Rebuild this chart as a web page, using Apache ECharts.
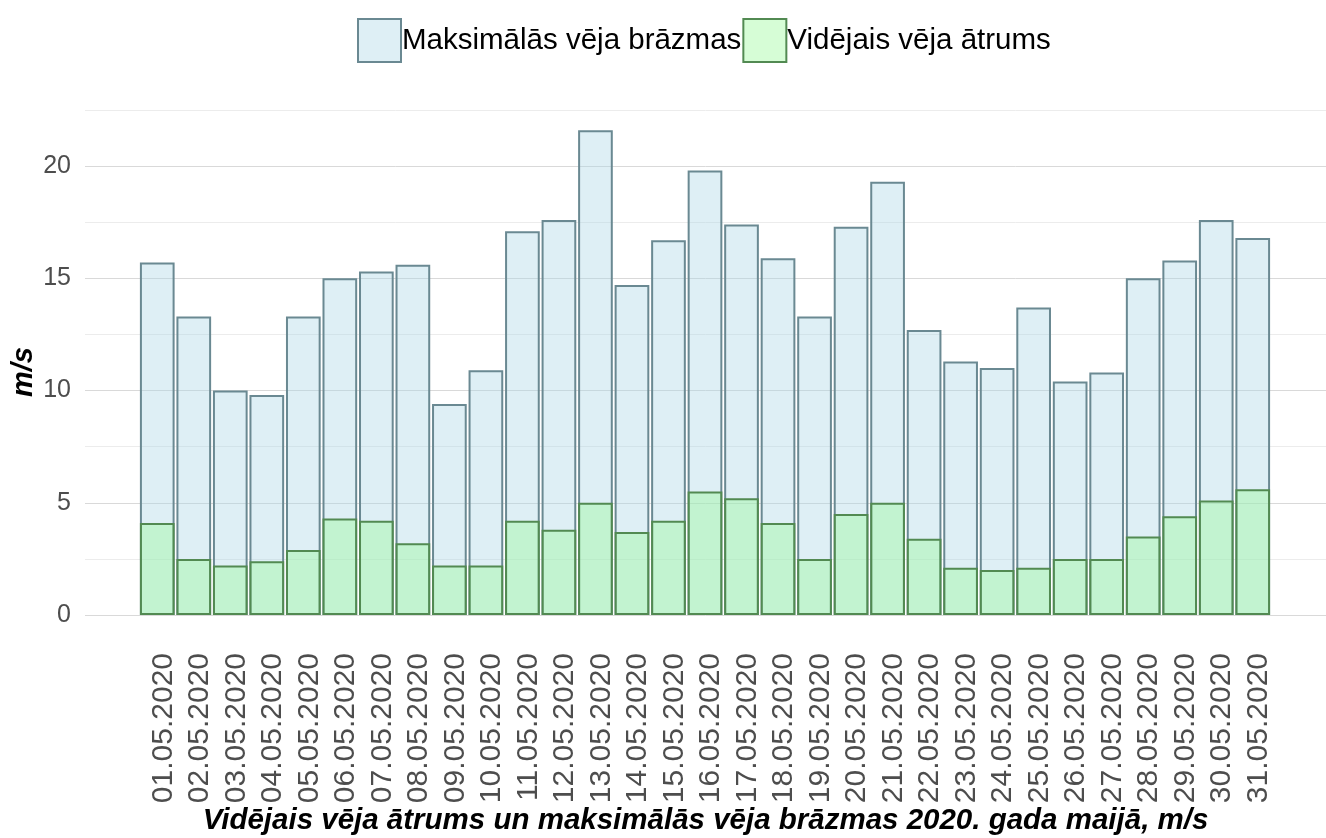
<!DOCTYPE html>
<html>
<head>
<meta charset="utf-8">
<script src="https://cdn.jsdelivr.net/npm/echarts@6/dist/echarts.min.js"></script>
<style>
html,body{margin:0;padding:0;background:#fff;}
#chart{width:1326px;height:838px;}
</style>
</head>
<body>
<div id="chart"></div>
<script>
const categories = ['01.05.2020','02.05.2020','03.05.2020','04.05.2020','05.05.2020','06.05.2020','07.05.2020','08.05.2020','09.05.2020','10.05.2020','11.05.2020','12.05.2020','13.05.2020','14.05.2020','15.05.2020','16.05.2020','17.05.2020','18.05.2020','19.05.2020','20.05.2020','21.05.2020','22.05.2020','23.05.2020','24.05.2020','25.05.2020','26.05.2020','27.05.2020','28.05.2020','29.05.2020','30.05.2020','31.05.2020'];
const maxGust = [15.7,13.3,10.0,9.8,13.3,15.0,15.3,15.6,9.4,10.9,17.1,17.6,21.6,14.7,16.7,19.8,17.4,15.9,13.3,17.3,19.3,12.7,11.3,11.0,13.7,10.4,10.8,15.0,15.8,17.6,16.8];
const avgSpeed = [4.1,2.5,2.2,2.4,2.9,4.3,4.2,3.2,2.2,2.2,4.2,3.8,5.0,3.7,4.2,5.5,5.2,4.1,2.5,4.5,5.0,3.4,2.1,2.0,2.1,2.5,2.5,3.5,4.4,5.1,5.6];
const yTicks = [0,5,10,15,20];
const seriesNames = ['Maksimālās vēja brāzmas','Vidējais vēja ātrums'];
const xTitle = 'Vidējais vēja ātrums un maksimālās vēja brāzmas 2020. gada maijā, m/s';
const yTitle = 'm/s';

const FONT = '"Liberation Sans", Arial, sans-serif';
const chart = echarts.init(document.getElementById('chart'));
const yMin = 0, yMax = 22.5;
chart.setOption({
  animation: false,
  backgroundColor: '#ffffff',
  textStyle: {fontFamily: FONT},
  legend: {
    left: 352, top: 13,
    itemWidth: 43, itemHeight: 43, itemGap: 1,
    icon: 'rect',
    textStyle: {fontSize: 29.5, color: '#000', fontFamily: FONT, padding: [0, 0, 0, -4]},
    data: seriesNames
  },
  grid: [
    {left: 85, right: 0, top: 110, bottom: 223, containLabel: false, outerBoundsMode: 'none'},
    {left: 139, right: 55, top: 110, bottom: 223, containLabel: false, outerBoundsMode: 'none'}
  ],
  graphic: [
    {type: 'text', x: 24, y: 372, rotation: Math.PI / 2,
     style: {text: yTitle, align: 'center', verticalAlign: 'middle',
       font: 'italic bold 29px "Liberation Sans", Arial, sans-serif', fill: '#000'}}
  ],
  xAxis: [
    {gridIndex: 0, type: 'value', min: 0, max: 1, show: true,
     axisLine: {show: false}, axisTick: {show: false}, axisLabel: {show: false}, splitLine: {show: false},
     name: xTitle, nameLocation: 'middle', nameGap: 191,
     nameTextStyle: {fontSize: 29.5, fontWeight: 'bold', fontStyle: 'italic', color: '#000', fontFamily: FONT}},
    {gridIndex: 1, type: 'category', data: categories,
     axisLine: {show: false}, axisTick: {show: false},
     axisLabel: {rotate: 90, fontSize: 30, color: '#4d4d4d', margin: 38, interval: 0, fontFamily: FONT,
       verticalAlign: 'top', lineHeight: 12}}
  ],
  yAxis: [
    {gridIndex: 0, type: 'value', min: yMin, max: yMax, interval: 2.5,
     axisLine: {show: false}, axisTick: {show: false},
     axisLabel: {fontSize: 25, color: '#4d4d4d', margin: 14, fontFamily: FONT,
       formatter: v => yTicks.indexOf(v) >= 0 ? String(v) : ''},
     splitLine: {show: true, lineStyle: {color: ['#d9d9d9', '#ececec'], width: 1}}},
    {gridIndex: 1, type: 'value', min: yMin, max: yMax, show: false, splitLine: {show: false}}
  ],
  series: [
    {name: seriesNames[0], type: 'bar', xAxisIndex: 1, yAxisIndex: 1, data: maxGust,
     barGap: '-100%', barCategoryGap: '5%',
     itemStyle: {color: 'rgba(173,216,230,0.4)', borderColor: '#6a8992', borderWidth: 2}},
    {name: seriesNames[1], type: 'bar', xAxisIndex: 1, yAxisIndex: 1, data: avgSpeed,
     barGap: '-100%', barCategoryGap: '5%',
     itemStyle: {color: 'rgba(152,251,152,0.4)', borderColor: '#528a52', borderWidth: 2}}
  ]
});
</script>
</body>
</html>
